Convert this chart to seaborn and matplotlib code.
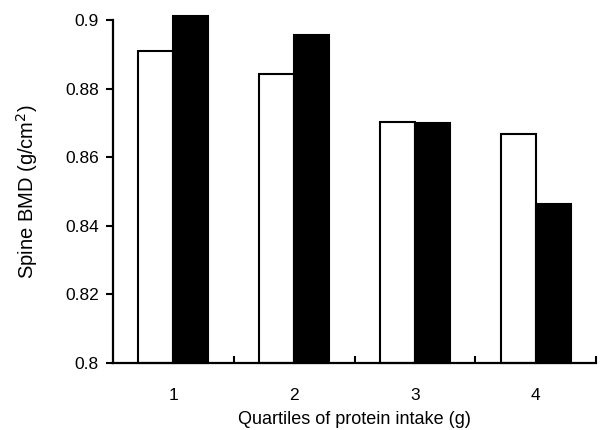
import pandas as pd
import matplotlib.pyplot as plt
import seaborn as sns
from matplotlib.ticker import FixedLocator

# ------------------------------------
# DATA
# ------------------------------------

quartiles = ["1", "2", "3", "4"]
group_a = [0.891, 0.8842, 0.8704, 0.8667]
group_b = [0.9012, 0.8957, 0.8699, 0.8463]

df = pd.DataFrame({
    "quartile": quartiles * 2,
    "bmd": group_a + group_b,
    "group": ["A"] * 4 + ["B"] * 4,
})

BASE = 0.8

# ------------------------------------
# PLOT
# ------------------------------------

sns.set_style("white")
plt.rcParams["font.family"] = ["Liberation Sans", "DejaVu Sans"]
plt.rcParams["text.color"] = "black"
plt.rcParams["axes.labelcolor"] = "black"
plt.rcParams["xtick.color"] = "black"
plt.rcParams["ytick.color"] = "black"

fig, ax = plt.subplots(figsize=(6.16, 4.30), dpi=100)

sns.barplot(
    data=df, x="quartile", y="bmd", hue="group",
    palette=["white", "black"], edgecolor="black", linewidth=1.5,
    width=0.58, legend=False, ax=ax,
)

# bars start at the axis floor, and the tallest one pokes over the top
for p in ax.patches:
    h = p.get_height()
    p.set_y(BASE)
    p.set_height(h - BASE)
    p.set_clip_on(False)

ax.set_ylim(BASE, 0.9)
ax.set_xlim(-0.5, 3.5)
ax.set_yticks([0.8, 0.82, 0.84, 0.86, 0.88, 0.9])
ax.set_yticklabels(["0.8", "0.82", "0.84", "0.86", "0.88", "0.9"])

ax.xaxis.set_minor_locator(FixedLocator([0.5, 1.5, 2.5, 3.5]))
ax.tick_params(axis="x", which="major", length=0, pad=18, labelsize=12.5)
ax.tick_params(axis="x", which="minor", direction="in", length=5, width=1.5, bottom=True)
ax.tick_params(axis="y", which="major", direction="out", length=5, width=1.5, left=True,
               labelsize=12.5, pad=5)

sns.despine(ax=ax)
for side in ["left", "bottom"]:
    ax.spines[side].set_linewidth(1.6)
    ax.spines[side].set_color("black")

ax.set_xlabel("Quartiles of protein intake (g)", fontsize=13, labelpad=6)
ax.set_ylabel("Spine BMD (g/cm$^2$)", fontsize=14.5, labelpad=18)

plt.subplots_adjust(left=0.183, right=0.968, top=0.953, bottom=0.156)

plt.savefig("out.png", dpi=100)
plt.close()
